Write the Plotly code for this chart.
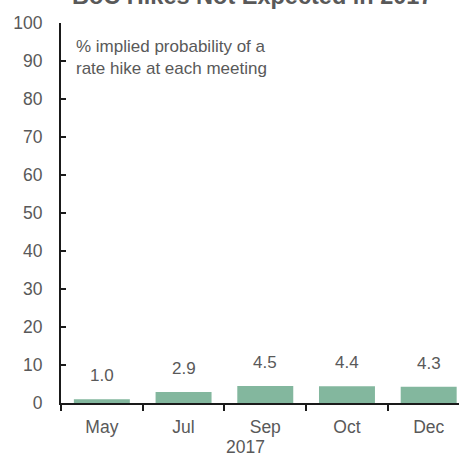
import plotly.graph_objects as go

months = ["May", "Jul", "Sep", "Oct", "Dec"]
probs = [1.0, 2.9, 4.5, 4.4, 4.3]
labels = ["1.0", "2.9", "4.5", "4.4", "4.3"]
y_ticks = [0, 10, 20, 30, 40, 50, 60, 70, 80, 90, 100]
title = "BoC Hikes Not Expected in 2017"
note = "% implied probability of a<br>rate hike at each meeting"
year = "2017"

GRAY = "#595959"
FONT = "Liberation Sans, Arial, sans-serif"

fig = go.Figure()
fig.add_trace(go.Bar(x=months, y=probs, marker=dict(color="#83b79e", line=dict(width=0)),
                     hoverinfo="skip"))

ann = []
for m, v, t in zip(months, probs, labels):
    ann.append(dict(x=m, y=v, xref="x", yref="y", text=t, showarrow=False,
                    yanchor="bottom", yshift=12, font=dict(size=17, color=GRAY, family=FONT)))
ann.append(dict(x=0.5, xref="paper", y=1.071, yref="paper", text="<b>" + title + "</b>",
                showarrow=False, xanchor="center", yanchor="middle", xshift=-8,
                font=dict(size=23.5, color=GRAY, family=FONT)))
ann.append(dict(x=0.033, xref="paper", y=0.968, yref="paper", text=note, align="left",
                showarrow=False, xanchor="left", yanchor="top",
                font=dict(size=17, color=GRAY, family=FONT)))
ann.append(dict(x=0.464, xref="paper", y=-0.116, yref="paper", text=year,
                showarrow=False, xanchor="center", yanchor="middle", borderpad=0,
                font=dict(size=17.5, color=GRAY, family=FONT)))

fig.update_layout(
    width=459, height=456,
    margin=dict(l=61, r=0, t=23, b=53),
    paper_bgcolor="white", plot_bgcolor="white",
    showlegend=False, bargap=0.315,
    annotations=ann,
    font=dict(family=FONT, color=GRAY, size=17),
)
fig.update_xaxes(type="category", range=[-0.5, 4.371], showline=True, linecolor="#1a1a1a",
                 linewidth=2, ticks="outside", ticklen=6, tickwidth=1.5, tickcolor="#1a1a1a",
                 tickson="boundaries", showgrid=False, zeroline=False,
                 tickfont=dict(size=17.5, color=GRAY, family=FONT), ticklabelstandoff=7)
fig.update_yaxes(range=[0, 100], tickvals=y_ticks, showline=True, linecolor="#1a1a1a",
                 linewidth=2, ticks="inside", ticklen=5, tickwidth=1.5, tickcolor="#1a1a1a",
                 showgrid=False, zeroline=False,
                 tickfont=dict(size=17.5, color=GRAY, family=FONT), ticklabelstandoff=13)

fig.write_html("out.html", config={"displayModeBar": False},
               post_script="document.body.style.margin='0';document.body.style.overflow='hidden';")
